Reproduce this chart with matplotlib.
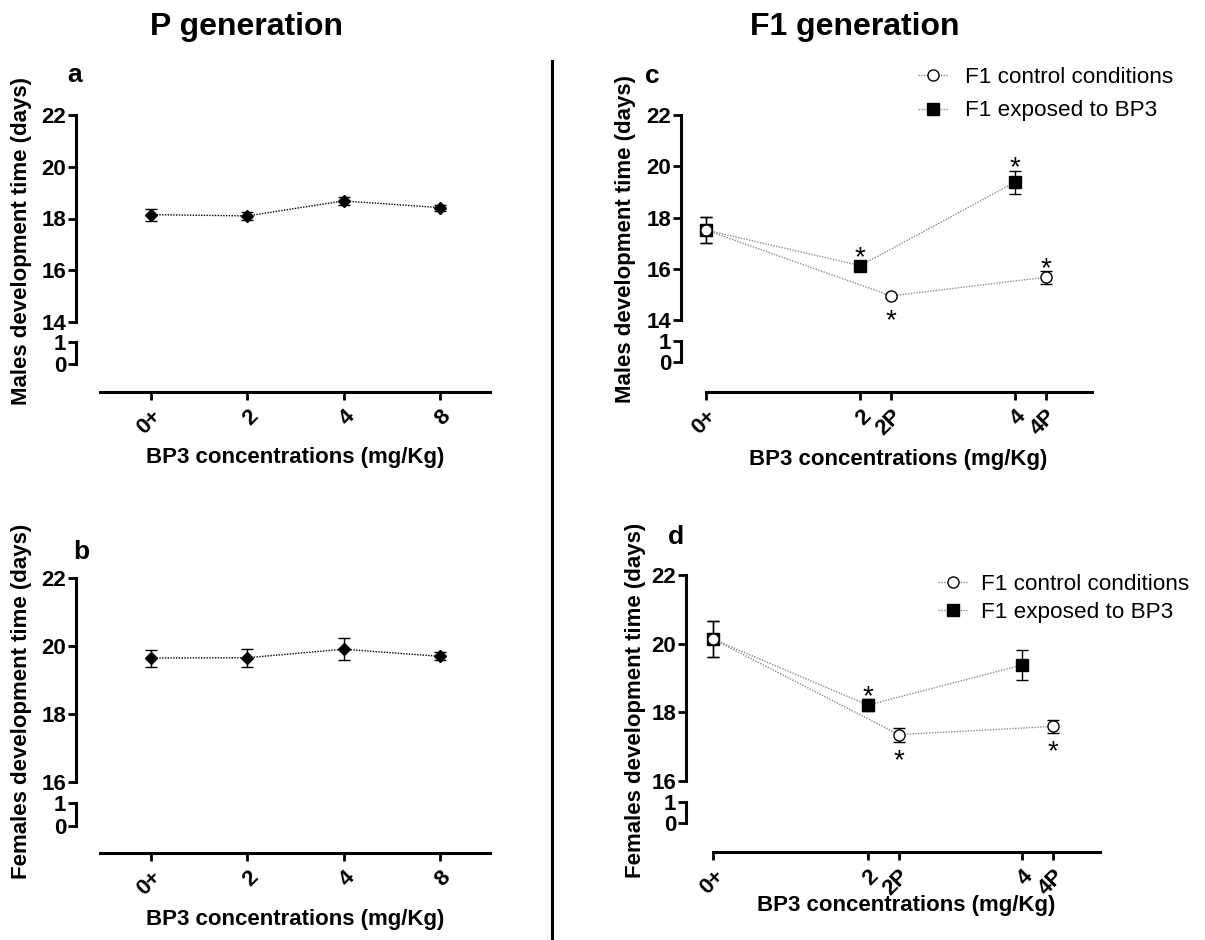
import matplotlib
matplotlib.use("Agg")
import matplotlib.pyplot as plt
from matplotlib.lines import Line2D

plt.rcParams["font.family"] = ["Liberation Sans", "DejaVu Sans"]

# P generation: development time per BP3 dose (mean, SEM)
p_labels = ["0+", "2", "4", "8"]
p_males = [18.15, 18.10, 18.68, 18.42]
p_males_err = [0.23, 0.15, 0.15, 0.12]
p_females = [19.64, 19.65, 19.90, 19.69]
p_females_err = [0.25, 0.27, 0.32, 0.12]

# F1 generation: positions on the dose axis and labels
f1_ticks = [0, 2, 2.4, 4, 4.4]
f1_labels = ["0+", "2", "2P", "4", "4P"]
ctrl_x = [0, 2.4, 4.4]
exp_x = [0, 2, 4]

f1_males_ctrl = [17.52, 14.95, 15.68]
f1_males_ctrl_err = [0.52, 0.08, 0.25]
f1_males_exp = [17.52, 16.13, 19.38]
f1_males_exp_err = [0.52, 0.08, 0.45]
f1_fem_ctrl = [20.13, 17.35, 17.59]
f1_fem_ctrl_err = [0.53, 0.20, 0.18]
f1_fem_exp = [20.13, 18.21, 19.38]
f1_fem_exp_err = [0.53, 0.17, 0.45]

# significance marks: "up" = above the point, "down" = below
f1_males_ctrl_sig = ["", "down", "up"]
f1_males_exp_sig = ["", "up", "up"]
f1_fem_ctrl_sig = ["", "down", "down"]
f1_fem_exp_sig = ["", "up", ""]

legend_labels = ["F1 control conditions", "F1 exposed to BP3"]

W, H = 1205, 940
fig = plt.figure(figsize=(W / 100, H / 100), dpi=100)


def fx(px):
    return px / W


def fy(py):
    return 1 - py / H


FS = 16
GREY = "#8a8a8a"
STAR_FS = 20


def make_panel(xl, xr, x0, unit, y22, ybot, y1, y0, yspine, ylo, xbounds,
               ticks, ticklabels):
    xlim = ((xl - x0) / unit, (xr - x0) / unit)
    ax = fig.add_axes([fx(xl), fy(ybot), (xr - xl) / W, (ybot - y22) / H])
    lo = fig.add_axes([fx(xl), fy(yspine), (xr - xl) / W, (yspine - y1) / H])
    ax.set_xlim(xlim)
    lo.set_xlim(xlim)
    ax.set_ylim(ylo, 22)
    lo.set_ylim(-(yspine - y0) / (y0 - y1), 1)
    for a in (ax, lo):
        a.spines["top"].set_visible(False)
        a.spines["right"].set_visible(False)
        a.spines["left"].set_linewidth(2.2)
        a.spines["bottom"].set_linewidth(2.2)
        a.patch.set_alpha(0)
        a.tick_params(width=2, length=6, labelsize=FS, pad=1)
    ax.spines["bottom"].set_visible(False)
    ax.tick_params(axis="x", bottom=False, labelbottom=False)
    ax.set_yticks(range(ylo, 23, 2))
    ax.set_yticklabels([str(v) for v in range(ylo, 23, 2)], fontweight="bold")
    lo.spines["left"].set_bounds(0, 1)
    lo.spines["bottom"].set_bounds(*xbounds)
    lo.set_yticks([0, 1])
    lo.set_yticklabels(["0", "1"], fontweight="bold")
    lo.set_xticks(ticks)
    lo.set_xticklabels(ticklabels, rotation=45, ha="right", va="top",
                       rotation_mode="anchor", fontweight="bold")
    lo.tick_params(axis="x", pad=4)
    return ax


def stars(ax, xs, ys, errs, marks):
    ppu = ax.bbox.height / (ax.get_ylim()[1] - ax.get_ylim()[0])
    for x, y, e, m in zip(xs, ys, errs, marks):
        if not m:
            continue
        off = (max(e * ppu, 5.5) + 11) * 72 / 100
        s = 1 if m == "up" else -1
        ax.annotate("*", xy=(x, y), xytext=(0, s * off - 0.575 * STAR_FS),
                    textcoords="offset points", ha="center", va="baseline",
                    fontsize=STAR_FS, annotation_clip=False)


def f1_plot(ax, cy, cerr, ey, eerr):
    ax.errorbar(exp_x, ey, yerr=eerr, color=GREY, ls=(0, (1, 1)), lw=1,
                marker="s", ms=8, mfc="black", mec="black", ecolor="black",
                elinewidth=1, capsize=4, capthick=1, clip_on=False, zorder=3)
    ax.errorbar(ctrl_x, cy, yerr=cerr, color=GREY, ls=(0, (1, 1)), lw=1,
                marker="o", ms=8, mfc="white", mec="black", mew=1,
                ecolor="black", elinewidth=1, capsize=4, capthick=1,
                clip_on=False, zorder=4)


def p_plot(ax, y, err):
    ax.errorbar(range(len(y)), y, yerr=err, color="black", ls=(0, (1, 1)),
                lw=1, marker="D", ms=6.5, mfc="black", mec="black",
                ecolor="black", elinewidth=1, capsize=4, capthick=1,
                clip_on=False, zorder=3)


# panel a: P males
ax_a = make_panel(76, 490, 151, 96.3, 115, 322, 342, 364, 392, 14,
                  (-0.53, 3.52), range(4), p_labels)
p_plot(ax_a, p_males, p_males_err)

# panel b: P females
ax_b = make_panel(76, 490, 151, 96.3, 577.7, 782, 803, 826, 853, 16,
                  (-0.53, 3.52), range(4), p_labels)
p_plot(ax_b, p_females, p_females_err)

# panel c: F1 males
ax_c = make_panel(681, 1092, 705.7, 77.3, 115, 320.3, 341, 362.3, 392, 14,
                  (0, 5), f1_ticks, f1_labels)
f1_plot(ax_c, f1_males_ctrl, f1_males_ctrl_err, f1_males_exp, f1_males_exp_err)
stars(ax_c, ctrl_x, f1_males_ctrl, f1_males_ctrl_err, f1_males_ctrl_sig)
stars(ax_c, exp_x, f1_males_exp, f1_males_exp_err, f1_males_exp_sig)

# panel d: F1 females
ax_d = make_panel(686, 1099.6, 713.3, 77.25, 575, 781, 802.3, 823.3, 851.7, 16,
                  (0, 5), f1_ticks, f1_labels)
f1_plot(ax_d, f1_fem_ctrl, f1_fem_ctrl_err, f1_fem_exp, f1_fem_exp_err)
stars(ax_d, ctrl_x, f1_fem_ctrl, f1_fem_ctrl_err, f1_fem_ctrl_sig)
stars(ax_d, exp_x, f1_fem_exp, f1_fem_exp_err, f1_fem_exp_sig)

# legends
handles = [
    Line2D([], [], color=GREY, ls=(0, (1, 1)), lw=1, marker="o", ms=8,
           mfc="white", mec="black"),
    Line2D([], [], color=GREY, ls=(0, (1, 1)), lw=1, marker="s", ms=8,
           mfc="black", mec="black"),
]
fig.legend(handles, legend_labels, loc="upper left",
           bbox_to_anchor=(fx(918), fy(67)), frameon=False, fontsize=16.2,
           handlelength=1.35, handletextpad=0.75, labelspacing=0.55,
           borderpad=0, borderaxespad=0)
fig.legend(handles, legend_labels, loc="upper left",
           bbox_to_anchor=(fx(938), fy(574)), frameon=False, fontsize=16.2,
           handlelength=1.35, handletextpad=0.55, labelspacing=0.3,
           borderpad=0, borderaxespad=0)

# titles, panel letters and axis labels
fig.text(fx(246), fy(35), "P generation", ha="center", va="baseline",
         fontsize=23, fontweight="bold")
fig.text(fx(855), fy(35), "F1 generation", ha="center", va="baseline",
         fontsize=23, fontweight="bold")
for lbl, (px, py) in zip("abcd", [(75, 75), (81, 552), (652, 76), (676, 537)]):
    fig.text(fx(px), fy(py), lbl, ha="center", va="center", fontsize=19,
             fontweight="bold")

for px, py, txt in [(22, 241, "Males development time (days)"),
                    (22, 701, "Females development time (days)"),
                    (626, 239, "Males development time (days)"),
                    (636, 700, "Females development time (days)")]:
    fig.text(fx(px), fy(py), txt, rotation=90, ha="center", va="center",
             fontsize=FS, fontweight="bold")

for px, py in [(295, 457), (295, 920), (898, 460), (906, 905)]:
    fig.text(fx(px), fy(py), "BP3 concentrations (mg/Kg)", ha="center",
             va="center", fontsize=FS, fontweight="bold")

# divider between the two generations
fig.add_artist(Line2D([fx(552), fx(552)], [fy(61), 0], color="black", lw=2.2))

fig.savefig("out.png", dpi=100)
